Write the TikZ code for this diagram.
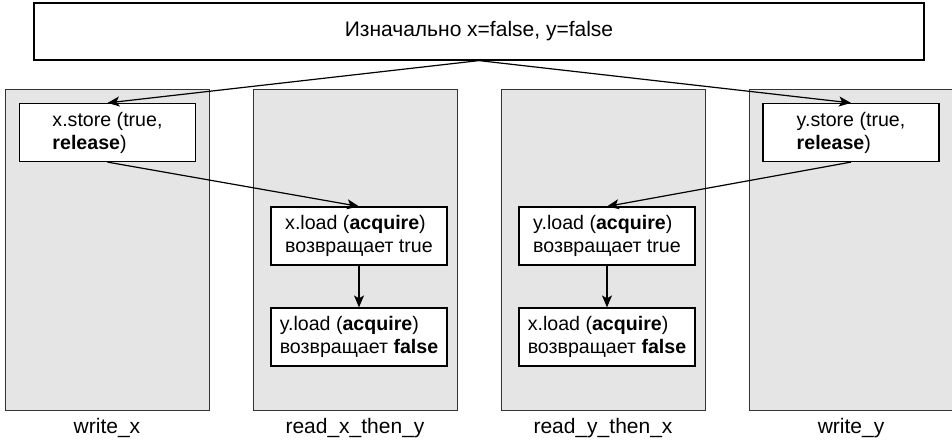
\documentclass[tikz,border=0pt]{standalone}
\usepackage{fontspec}
\setmainfont{Liberation Sans}
\usepackage{tikz}
\usetikzlibrary{arrows.meta, positioning}

\begin{document}
\begin{tikzpicture}[x=0.5pt, y=-0.5pt, >={Stealth[length=6pt, width=5pt, inset=1.5pt]},
    thread/.style={draw=black!80, fill=black!10, line width=0.5pt,
        minimum width=102pt, minimum height=160.5pt, inner sep=0pt,
        label={[font=\fontsize{10.5}{12}\selectfont, label distance=0.5pt]below:#1}},
    op/.style={draw, fill=white, line width=0.6pt, align=left,
        minimum width=88pt, minimum height=29pt, inner sep=2pt,
        font=\fontsize{9.8}{11.5}\selectfont}]
    % --- Рамка рисунка ---
    \useasboundingbox (0,0) rectangle (952,440);

    % Начальное состояние
    \node[draw, line width=0.6pt, minimum width=445pt, minimum height=28.5pt,
        font=\fontsize{10.5}{12}\selectfont] (init) at (479,31.5)
        {Изначально x=false, y=false};

    % Потоки (серые панели)
    \node[thread=write\_x] (wx) at (107,249.5) {};
    \node[thread=read\_x\_then\_y] (rxy) at (355,249.5) {};
    \node[thread=read\_y\_then\_x] (ryx) at (603,249.5) {};
    \node[thread=write\_y] (wy) at (851,249.5) {};

    % Операции
    \node[op] (xs) at (107.5,132.5) {x.store (true,\\\textbf{release})};
    \node[op] (ys) at (851,132.5) {y.store (true,\\\textbf{release})};
    \node[op] (xl1) at (359,236) {x.load (\textbf{acquire})\\возвращает true};
    \node[op] (yl1) at (359,337) {y.load (\textbf{acquire})\\возвращает \textbf{false}};
    \node[op] (yl2) at (607,236) {y.load (\textbf{acquire})\\возвращает true};
    \node[op] (xl2) at (607,337) {x.load (\textbf{acquire})\\возвращает \textbf{false}};

    % Стрелки
    \draw[->, line width=0.6pt] (init.south) -- (xs.north);
    \draw[->, line width=0.6pt] (init.south) -- (ys.north);
    \draw[->, line width=0.6pt] (xs.south) -- (xl1.north);
    \draw[->, line width=0.6pt] (ys.south) -- (yl2.north);
    \draw[->, line width=0.6pt] (xl1.south) -- (yl1.north);
    \draw[->, line width=0.6pt] (yl2.south) -- (xl2.north);
\end{tikzpicture}
\end{document}
